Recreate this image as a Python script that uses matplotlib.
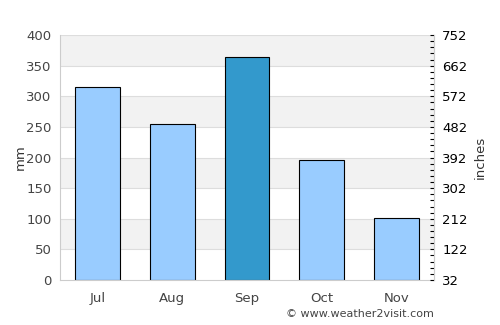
import matplotlib
matplotlib.use("Agg")
import matplotlib.pyplot as plt
import numpy as np
from matplotlib.ticker import FixedLocator

months = ["Jul", "Aug", "Sep", "Oct", "Nov"]
rain_mm = [316, 254, 365, 196, 101]
colors = ["#99ccff", "#99ccff", "#3399cc", "#99ccff", "#99ccff"]

fig = plt.figure(figsize=(5, 3.25), dpi=100)
ax = fig.add_axes([0.12, 0.1385, 0.748, 0.7535])

# alternating background bands
for lo in range(50, 400, 100):
    ax.axhspan(lo, lo + 50, color="#f2f2f2", zorder=0, lw=0)
for y in range(50, 401, 50):
    ax.axhline(y, color="#dddddd", lw=0.8, zorder=0.5)

x = np.arange(len(months))
ax.bar(x, rain_mm, width=0.6, color=colors, edgecolor="black", linewidth=0.8, zorder=2)

ax.set_xlim(-0.5, 4.5)
ax.set_ylim(0, 400)
ax.set_xticks(x)
ax.set_xticklabels(months)
ax.set_yticks(range(0, 401, 50))
ax.tick_params(axis="both", length=0, labelsize=9.5, colors="#444444", pad=6)
ax.tick_params(axis="x", pad=9)
ax.set_ylabel("mm", fontsize=9.5, color="#333333", labelpad=0)
for s in ["left", "bottom", "right"]:
    ax.spines[s].set_color("#cccccc")
ax.spines["top"].set_visible(False)

ax2 = ax.twinx()
ax2.set_ylim(32, 752)
ax2.set_yticks(np.arange(32, 753, 90))
ax2.yaxis.set_minor_locator(FixedLocator(np.arange(32, 753, 18)))
ax2.tick_params(axis="y", which="major", direction="in", length=3, width=0.8,
                labelsize=9.5, colors="black", pad=6)
ax2.tick_params(axis="y", which="minor", direction="in", length=3, width=0.8, colors="black")
ax2.set_ylabel("inches", fontsize=9.5, color="#333333", labelpad=4)
for s in ["left", "bottom", "top"]:
    ax2.spines[s].set_visible(False)
ax2.spines["right"].set_color("#cccccc")

fig.text(0.868, 0.035, "\u00a9 www.weather2visit.com", ha="right", va="center",
         fontsize=8, color="#444444")

fig.savefig("out.png", dpi=100)
